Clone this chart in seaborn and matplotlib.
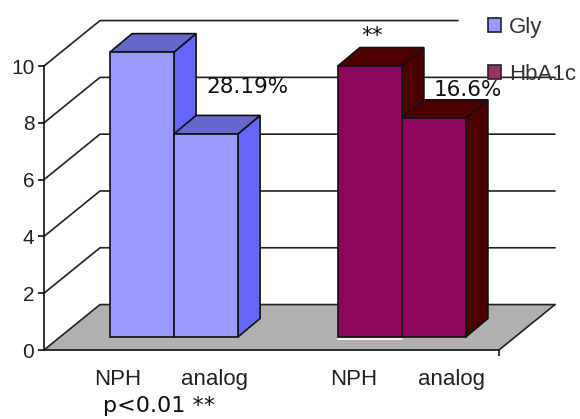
import numpy as np
import pandas as pd
import matplotlib
matplotlib.use("Agg")
import matplotlib.pyplot as plt
from matplotlib.patches import Polygon
import seaborn as sns

sns.set_theme(style="white")
plt.rcParams['font.family'] = ['Liberation Sans', 'DejaVu Sans']

# values
series = ["Gly", "Gly", "HbA1c", "HbA1c"]
treatment = ["NPH", "analog", "NPH", "analog"]
values = [10.03, 7.15, 9.54, 7.7]
y_ticks = [0, 2, 4, 6, 8, 10]

# bar centres, in bar widths
bar_x = [0, 1, 3.56, 4.56]
label_x = [-0.375, 1.14, 3.3, 4.83]

FRONT = {"Gly": "#9999ff", "HbA1c": "#8c065c"}
SIDE = {"Gly": "#6666ff", "HbA1c": "#4d0000"}
TOP = {"Gly": "#6666cc", "HbA1c": "#4d0000"}

df = pd.DataFrame({"x": bar_x, "value": values, "series": series})

fig = plt.figure(figsize=(5.8, 4.19), dpi=100)
ax = fig.add_axes([44 / 580, 1 - 350 / 419, 455 / 580, 330 / 419])
ax.patch.set_alpha(0)

# 3d look: bars stand a bit behind the front edge of the floor
base = 0.46
wall_dx, wall_dy = 0.875, 1.6
bar_dx, bar_dy = 0.345, 0.65
x_left, x_right = -1.531, 5.578

sns.barplot(data=df, x="x", y="value", hue="series", palette=FRONT, native_scale=True,
            dodge=False, width=1, gap=0, saturation=1, edgecolor="#111111",
            linewidth=1.2, zorder=5, ax=ax)
for bar in ax.patches:
    if bar.get_width() > 0:
        bar.set_y(base)  # lift the bars onto the floor
ax.set_xlim(x_left, x_right)
ax.set_ylim(0, 11.62)

# floor
ax.add_patch(Polygon([(x_left, 0), (x_right, 0), (x_right + wall_dx, wall_dy), (x_left + wall_dx, wall_dy)],
                     closed=True, facecolor="#b0b0b0", edgecolor="none", clip_on=False, zorder=1))

# grid on side wall and back wall
for v in y_ticks:
    end = x_left + 6.47 if v == 10 else x_right + wall_dx
    ax.plot([x_left, x_left + wall_dx, end], [v, v + wall_dy, v + wall_dy], color="#222222",
            lw=1.2, clip_on=False, zorder=2)
ax.plot([x_right, x_right + wall_dx], [0, wall_dy], color="#222222", lw=1.2, clip_on=False, zorder=2)

# side and top faces of the bars
for x, v, s in zip(bar_x, values, series):
    r = x + 0.5
    l = x - 0.5
    ax.add_patch(Polygon([(r, base), (r + bar_dx, base + bar_dy), (r + bar_dx, base + v + bar_dy), (r, base + v)],
                         closed=True, facecolor=SIDE[s], edgecolor="#111111", lw=1.2, clip_on=False, zorder=3))
    ax.add_patch(Polygon([(l, base + v), (l + bar_dx, base + v + bar_dy), (r + bar_dx, base + v + bar_dy), (r, base + v)],
                         closed=True, facecolor=TOP[s], edgecolor="#111111", lw=1.2, clip_on=False, zorder=3))

# white line under the third bar
ax.plot([bar_x[2] - 0.5, bar_x[2] + 0.5], [base - 0.07, base - 0.07], color="white", lw=1.2, zorder=4)

sns.despine(ax=ax)
ax.spines["left"].set_bounds(0, 10)
for sp in ["left", "bottom"]:
    ax.spines[sp].set_color("#111111")
    ax.spines[sp].set_linewidth(1.2)
    ax.spines[sp].set_zorder(6)

ax.set_xlabel("")
ax.set_ylabel("")
ax.set_yticks(y_ticks)
ax.set_yticklabels([str(v) for v in y_ticks], fontsize=15, color="#222222")
ax.tick_params(axis="y", left=True, length=4, width=1.2, color="#111111", pad=3)
ax.set_xticks(label_x)
ax.set_xticklabels(treatment, fontsize=16, color="#222222")
ax.set_xticks([x_right], minor=True)
ax.tick_params(axis="x", which="major", bottom=False, length=0, pad=13.5)
ax.tick_params(axis="x", which="minor", bottom=True, length=4, width=1.2, color="#111111")

# legend
sns.move_legend(ax, loc="upper left", bbox_to_anchor=(468 / 580, 1 + 3 / 419), bbox_transform=fig.transFigure,
                frameon=False, title=None, fontsize=16, handlelength=0.6, handleheight=0.6,
                handletextpad=0.36, labelspacing=1.15, labelcolor="#333333")
leg = ax.get_legend()
leg.legend_handles[1].set_facecolor("#993366")
for h in leg.legend_handles:
    h.set_edgecolor("#222222")
    h.set_linewidth(1.2)

# annotations
ann = dict(family="DejaVu Sans", fontsize=15.5, color="#111111", zorder=8)
fig.text(206 / 580, 1 - 93 / 419, "28.19%", **ann)
fig.text(434 / 580, 1 - 96 / 419, "16.6%", **ann)
fig.text(361 / 580, 1 - 42 / 419, "**", **ann)
fig.text(103 / 580, 1 - 412 / 419, "p<0.01 **", family="DejaVu Sans", fontsize=16, color="#111111", zorder=8)

fig.savefig("out.png", dpi=100)
